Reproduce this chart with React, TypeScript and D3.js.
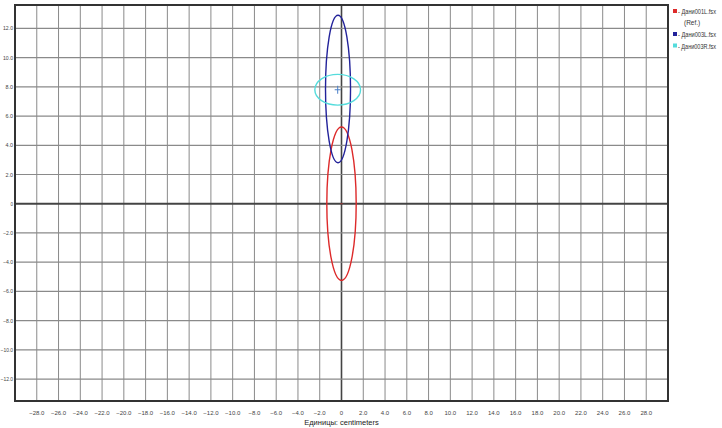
import React from 'react'
import * as d3 from 'd3'

// ellipse data (centimeters)
const seriesNames = ['Дани001L.fsx', 'Дани003L.fsx', 'Дани003R.fsx']
const centerX = [0.0, -0.32, -0.35]
const centerY = [0.0, 7.85, 7.8]
const radiusX = [1.35, 1.15, 2.1]
const radiusY = [5.25, 5.05, 1.05]
const xTicks = d3.range(-28, 29, 2)
const yTicks = d3.range(-12, 13, 2)
const axisTitle = 'Единицы: centimeters'

const colors = ['#dd2a2a', '#22229a', '#55dcdc']

const W = 722
const H = 428
const left = 15
const right = 668
const top = 5
const bottom = 401

export default function App() {
  const x = d3.scaleLinear().domain([-30, 30]).range([left, right])
  const y = d3.scaleLinear().domain([-13.5, 13.6]).range([bottom, top])
  const fmt = (v: number) => (v === 0 ? '0' : d3.format('.1f')(v))
  const font = '"Liberation Sans", Arial, sans-serif'

  return (
    <svg width={W} height={H} style={{ position: 'absolute', left: 0, top: 0, background: '#fff' }}>
      {/* grid */}
      {xTicks.map(t => (
        <line key={'gx' + t} x1={x(t)} x2={x(t)} y1={top} y2={bottom}
          stroke={t === 0 ? '#444' : '#8a8a8a'} strokeWidth={t === 0 ? 1.6 : 1} />
      ))}
      {yTicks.map(t => (
        <line key={'gy' + t} x1={left} x2={right} y1={y(t)} y2={y(t)}
          stroke={t === 0 ? '#444' : '#8a8a8a'} strokeWidth={t === 0 ? 2 : 1.2} />
      ))}
      <rect x={left} y={top} width={right - left} height={bottom - top}
        fill="none" stroke="#333" strokeWidth={2} />

      {/* tick labels */}
      {xTicks.map(t => (
        <text key={'tx' + t} x={x(t)} y={415} fontSize={6} fontFamily={font}
          textAnchor="middle" fill="#444">{fmt(t)}</text>
      ))}
      {yTicks.map(t => {
        const s = fmt(t)
        const len = s.length * 2.5
        return (
          <text key={'ty' + t} x={13 - len} y={y(t) + 2} fontSize={5.5} fontFamily={font}
            textLength={len} lengthAdjust="spacingAndGlyphs" fill="#444">{s}</text>
        )
      })}
      <text x={x(0)} y={425} fontSize={7.5} fontFamily={font} textAnchor="middle" fill="#222">{axisTitle}</text>

      {/* ellipses */}
      {seriesNames.map((n, i) => (
        <ellipse key={n} cx={x(centerX[i])} cy={y(centerY[i])}
          rx={x(radiusX[i]) - x(0)} ry={y(0) - y(radiusY[i])}
          fill="none" stroke={colors[i]} strokeWidth={1.4} />
      ))}
      {/* small center crosses */}
      <g stroke="#4a7fc8" strokeWidth={1}>
        <line x1={x(centerX[2]) - 3} x2={x(centerX[2]) + 3} y1={y(centerY[2])} y2={y(centerY[2])} />
        <line x1={x(centerX[2])} x2={x(centerX[2])} y1={y(centerY[2]) - 4} y2={y(centerY[2]) + 4} />
      </g>
      <g stroke={colors[0]} strokeWidth={0.8} opacity={0.6}>
        <line x1={x(centerX[0]) - 1.5} x2={x(centerX[0]) + 1.5} y1={y(centerY[0])} y2={y(centerY[0])} />
      </g>

      {/* legend */}
      {seriesNames.map((n, i) => {
        const ly = i === 0 ? 12 : 12 + 11.5 * (i + 1)
        return (
          <g key={'lg' + n}>
            <rect x={673} y={ly - 3} width={4} height={4} fill={colors[i]} />
            <text x={678} y={ly + 2} fontSize={6.5} fontFamily={font} fill="#333"
              textLength={38} lengthAdjust="spacingAndGlyphs">{'- ' + n}</text>
            {i === 0 && (
              <text x={684} y={ly + 13} fontSize={6.5} fontFamily={font} fill="#333">(Ref.)</text>
            )}
          </g>
        )
      })}
    </svg>
  )
}
